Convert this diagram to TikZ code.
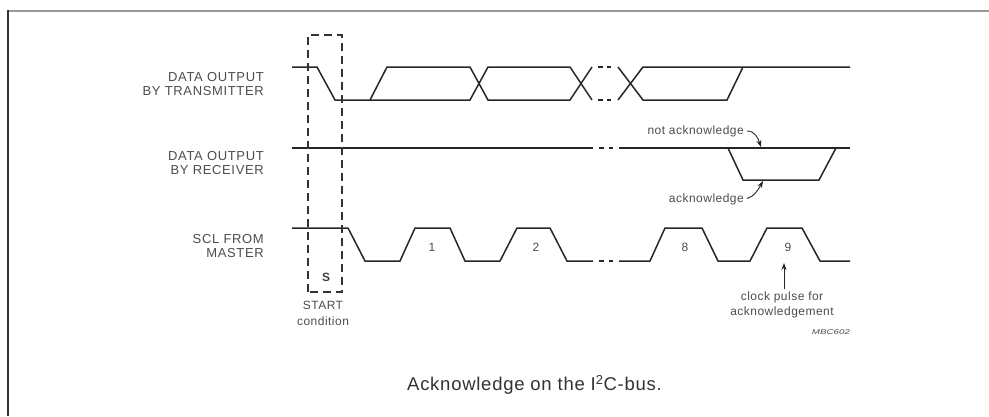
\documentclass[tikz,border=0pt]{standalone}
\usepackage{fontspec}
\setmainfont{Liberation Sans}
\usetikzlibrary{arrows.meta}
\begin{document}
\begin{tikzpicture}[x=1pt,y=-1pt,
  wave/.style={line width=1.5pt, black!85},
  dbox/.style={line width=1.2pt, black!80, dash pattern=on 8pt off 5pt},
  lbl/.style={font=\fontsize{13}{14.5}\selectfont\addfontfeature{LetterSpace=5}, text=black!70, align=right, inner sep=0pt},
  small/.style={font=\fontsize{12}{15.5}\selectfont\addfontfeature{LetterSpace=4}, text=black!70, align=center, inner sep=0pt},
  num/.style={font=\fontsize{12}{14}\selectfont, text=black!70, inner sep=0pt},
  ptr/.style={line width=0.9pt, black!85, -{Stealth[length=7pt,width=5pt]}}]
\useasboundingbox (0,0) rectangle (989,416);
% frame
\draw[line width=2.5pt, black!40] (8,11) -- (989,11);
\draw[line width=2pt, black!80] (8,10) -- (8,416);
% labels
\node[lbl, anchor=east] (ltx) at (264,84) {DATA OUTPUT\\BY TRANSMITTER};
\node[lbl, anchor=east] (lrx) at (264,163) {DATA OUTPUT\\BY RECEIVER};
\node[lbl, anchor=east] (lscl) at (264,246) {SCL FROM\\MASTER};
% transmitter
\draw[wave] (292,67) -- (317,67) -- (335,100) -- (370,100) -- (387,67) -- (470,67) -- (488,100) -- (570,100) -- (592,67);
\draw[wave] (370,100) -- (470,100) -- (488,67) -- (570,67) -- (592,100);
\draw[wave] (598,67) -- (603,67) (607,67) -- (611,67) (598,100) -- (603,100) (607,100) -- (611,100);
\draw[wave] (618,67) -- (643,100) -- (727,100) -- (743,67);
\draw[wave] (618,100) -- (643,67) -- (850,67);
% receiver
\draw[wave] (292,148) -- (593,148) (599,148) -- (604,148) (609,148) -- (613,148) (619,148) -- (850,148);
\draw[wave] (728,148) -- (743,180) -- (819,180) -- (836,148);
% SCL
\draw[wave] (292,228) -- (348,228) -- (365,261) -- (400,261) -- (415,228) -- (450,228) -- (465,261) -- (500,261) -- (517,228) -- (550,228) -- (567,261) -- (593,261);
\draw[wave] (599,261) -- (604,261) (609,261) -- (613,261);
\draw[wave] (619,261) -- (650,261) -- (665,228) -- (702,228) -- (718,261) -- (750,261) -- (767,228) -- (802,228) -- (820,261) -- (850,261);
% pulse numbers
\node[num] (n1) at (432,247) {1};
\node[num] (n2) at (536,247) {2};
\node[num] (n8) at (685,247) {8};
\node[num] (n9) at (788,247) {9};
% start box
\draw[dbox] (308,292) -- (308,35) -- (342,35) -- (342,292) -- cycle;
\node[font=\fontsize{12}{14}\selectfont\bfseries, text=black!75, inner sep=0pt] (s) at (326,277) {S};
\node[small] (start) at (323,313.5) {START\\condition};
% acknowledge
\node[small, anchor=east] (nack) at (744,131) {not acknowledge};
\node[small, anchor=east] (ack) at (744,199) {acknowledge};
\coordinate (nacktip) at (761,147);
\coordinate (acktip) at (763,181);
\draw[ptr, shorten <=3pt] (nack.east) .. controls (755,131) and (758,138) .. (nacktip);
\draw[ptr, shorten <=3pt] (ack.east) .. controls (754,197) and (758,190) .. (acktip);
% clock pulse
\node[small] (clk) at (782,305) {clock pulse for\\acknowledgement};
\coordinate (clktip) at (784,263);
\draw[ptr] (784,289) -- (clktip);
\node[inner sep=0pt, text=black!70, font=\fontsize{7}{8}\selectfont\itshape] (code) at (831,332) {\scalebox{1.4}[1]{MBC602}};
% caption
\node[inner sep=0pt, text=black!80, font=\fontsize{18.5}{20}\selectfont\addfontfeature{LetterSpace=4}] (cap) at (534.5,385) {Acknowledge on the I\textsuperscript{2}C-bus.};
\end{tikzpicture}
\end{document}
